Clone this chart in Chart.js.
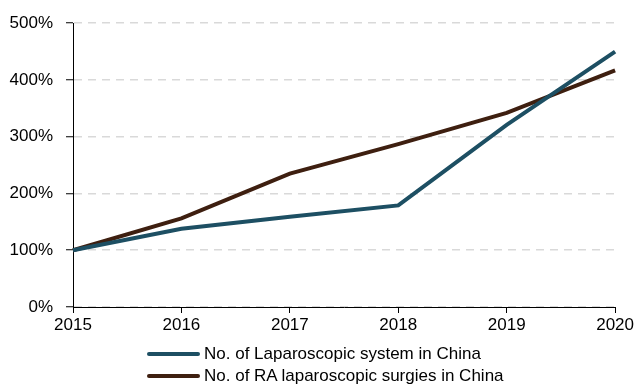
<!DOCTYPE html>
<html>
<head>
<meta charset="utf-8">
<script src="https://cdn.jsdelivr.net/npm/chart.js@4"></script>
<style>
  html, body { margin: 0; padding: 0; background: #fff; }
  #wrap { position: relative; width: 636px; height: 385px; }
  #legend { position: absolute; left: 147px; top: 343px; font-family: "Liberation Sans", Arial, sans-serif; font-size: 17px; color: #000; }
  .item { display: flex; align-items: center; height: 22px; }
  .swatch { width: 53px; height: 4px; border-radius: 2px; margin-right: 4px; }
</style>
</head>
<body>
<div id="wrap">
  <canvas id="chart" width="636" height="385"></canvas>
  <div id="legend"></div>
</div>
<script>
const years = ['2015', '2016', '2017', '2018', '2019', '2020'];
const laparoscopicSystems = [100, 138, 159, 179, 321, 450];
const raSurgeries = [100, 156, 235, 287, 342, 417];
const seriesNames = ['No. of Laparoscopic system in China', 'No. of RA laparoscopic surgies in China'];
const seriesColors = ['#1d4f63', '#3e1f10'];

const font = { family: '"Liberation Sans", Arial, sans-serif', size: 17 };

const ctx = document.getElementById('chart').getContext('2d');
const chart = new Chart(ctx, {
    type: 'line',
    data: {
        labels: years,
        datasets: [
            {
                label: seriesNames[0],
                data: laparoscopicSystems,
                borderColor: seriesColors[0],
                borderWidth: 4,
                pointRadius: 0,
                tension: 0,
                fill: false
            },
            {
                label: seriesNames[1],
                data: raSurgeries,
                borderColor: seriesColors[1],
                borderWidth: 4,
                pointRadius: 0,
                tension: 0,
                fill: false
            }
        ]
    },
    options: {
        responsive: false,
        animation: false,
        layout: { padding: { top: 23, right: 20, left: 0, bottom: 0 } },
        plugins: {
            legend: { display: false },
            tooltip: { enabled: false }
        },
        scales: {
            x: {
                offset: false,
                grid: { drawOnChartArea: false, tickLength: 6, tickColor: '#000', tickWidth: 1 },
                border: { color: '#000', width: 1 },
                ticks: { color: '#000', font: font, padding: 2, maxRotation: 0 },
                afterFit: scale => { scale.height = 78; }
            },
            y: {
                min: 0,
                max: 500,
                grid: {
                    color: '#d9d9d9',
                    lineWidth: 1.5,
                    tickLength: 7,
                    tickColor: '#000',
                    tickWidth: 1,
                    tickBorderDash: []
                },
                border: { color: '#000', width: 1, dash: [8, 6] },
                ticks: {
                    stepSize: 100,
                    color: '#000',
                    font: font,
                    padding: 13,
                    callback: v => v + '%'
                },
                afterFit: scale => { scale.width = 73; }
            }
        }
    }
});

const legend = document.getElementById('legend');
seriesNames.forEach((name, i) => {
    const row = document.createElement('div');
    row.className = 'item';
    row.innerHTML = '<span class="swatch" style="background:' + seriesColors[i] + '"></span><span>' + name + '</span>';
    legend.appendChild(row);
});
</script>
</body>
</html>
